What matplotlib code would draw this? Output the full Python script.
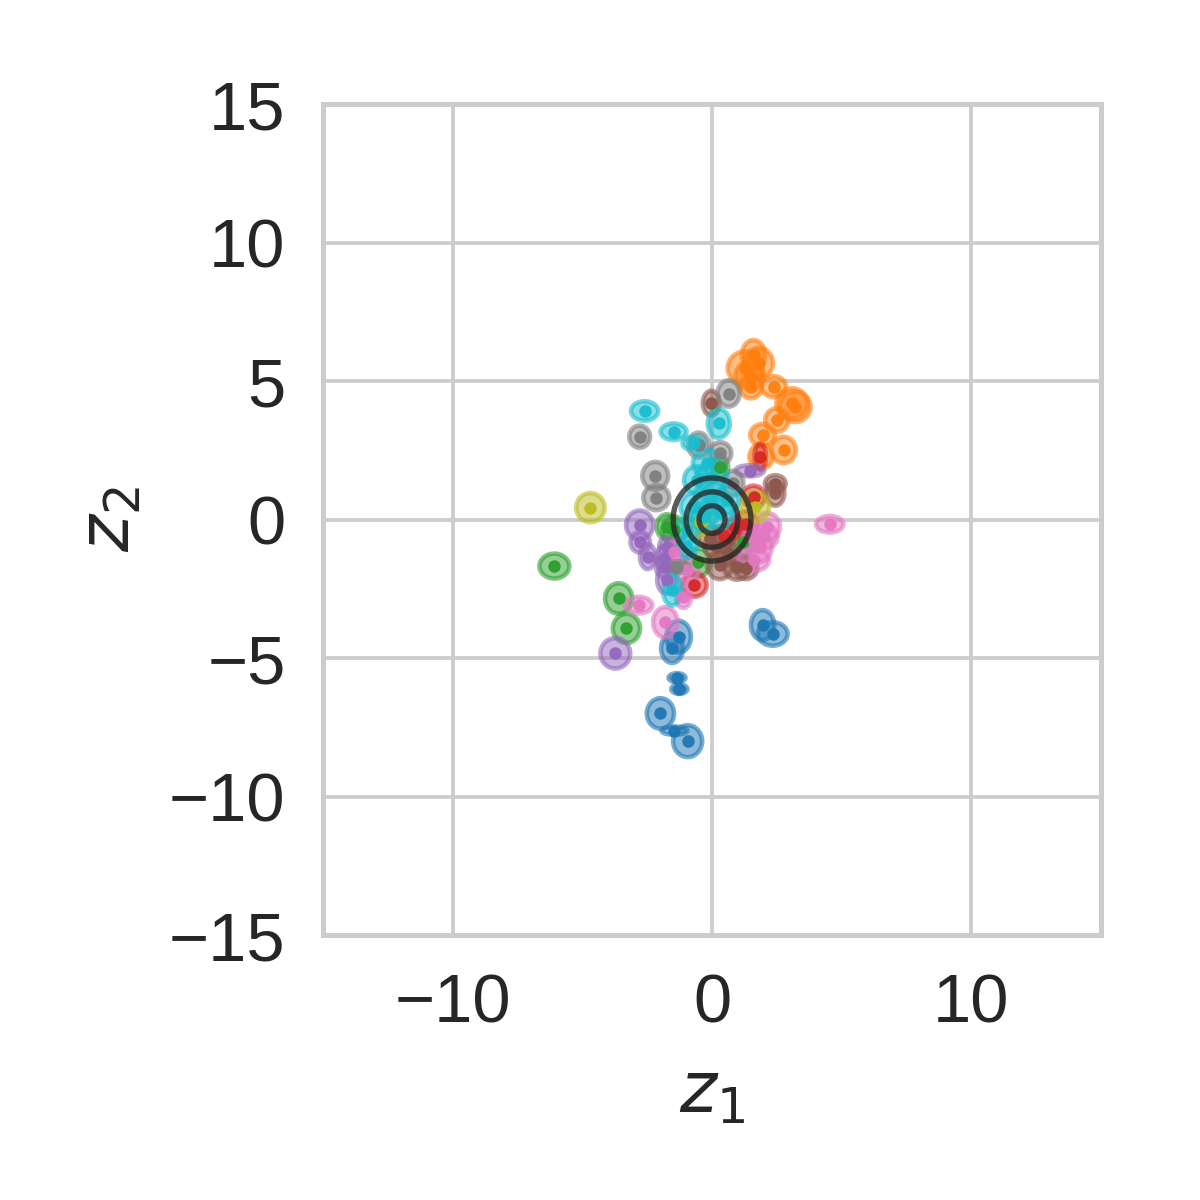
import numpy as np
import seaborn as sns
from matplotlib import pyplot as plt
from matplotlib.patches import Ellipse

sns.set_style("whitegrid")
plt.rcParams['font.family'] = ['Liberation Sans', 'DejaVu Sans']
plt.rcParams['mathtext.fontset'] = 'dejavusans'

# latent means (z1, z2), ellipse full widths/heights and class index
cls = [0]*9 + [1]*12 + [2]*8 + [3]*6 + [4]*9 + [5]*9 + [6]*11 + [7]*8 + [8]*3 + [9]*15
z1 = [1.95, 2.34, -1.29, -1.54, -1.35, -1.26, -1.99, -1.45, -0.94,
      1.6, 1.28, 1.8, 1.5, 2.38, 3.08, 3.2, 2.5, 1.95, 2.76, 1.89, 1.45,
      -6.08, -3.6, -3.3, 0.32, -1.48, -0.55, 1.2, -1.74,
      1.86, 1.6, -0.68, 1.3, 0.45, 0.9,
      1.45, -2.79, -2.77, -2.48, -1.85, -1.74, -3.73, -1.74, -1.87,
      -0.03, 2.44, 2.44, 0.3, 0.96, 1.3, 0.2, -0.06, 0.6,
      4.54, 2.12, 1.86, 1.6, 1.98, 1.6, -1.48, -0.96, -1.1, -2.83, -1.8,
      0.64, -2.79, -2.19, -2.15, -0.52, 0.32, 0.81, -1.35,
      -4.69, 1.65, -0.45,
      -2.6, -1.48, 0.26, -0.71, -0.19, -0.58, -0.07, -0.71, 0.32, -0.32, 0.58,
      -0.96, -0.96, -1.54, 0.0]
z2 = [-3.81, -4.13, -4.23, -4.65, -5.71, -6.12, -7.0, -7.62, -8.0,
      5.94, 5.47, 5.65, 4.8, 4.8, 4.19, 4.07, 3.59, 3.05, 2.51, 2.27, 5.2,
      -1.68, -2.85, -3.93, 1.9, -0.38, -1.55, -0.8, -0.26,
      2.27, 0.82, -2.36, -0.15, -0.6, -0.3,
      1.76, -0.2, -0.82, -1.34, -1.4, -2.18, -4.83, -0.98, -1.7,
      4.2, 1.3, 0.95, -1.65, -1.72, -1.75, -0.98, -0.65, -1.2,
      -0.17, -0.26, -0.98, -1.46, -0.62, -0.74, -1.16, -1.82, -2.79, -3.09, -3.71,
      4.55, 2.99, 1.58, 0.79, 2.69, 2.39, 1.31, -1.72,
      0.43, 0.46, -0.1,
      3.92, 3.17, 3.47, 2.75, 2.03, 1.43, 0.82, 0.46, 0.22, 0.1, 0.7,
      -0.38, -0.98, -2.55, 1.5]
wd = [0.9, 1.15, 0.95, 0.85, 0.65, 0.62, 1.05, 1.0, 1.12,
      0.9, 1.35, 1.1, 0.85, 0.95, 1.2, 1.2, 0.9, 0.95, 0.95, 0.9, 1.1,
      1.15, 1.05, 1.05, 0.6, 0.9, 1.0, 0.9, 0.8,
      0.45, 0.9, 0.95, 0.9, 0.8, 0.7,
      1.1, 1.05, 0.75, 0.6, 0.6, 0.75, 1.15, 0.6, 0.6,
      0.65, 0.8, 0.7, 1.0, 1.0, 0.9, 1.0, 0.9, 0.9,
      1.05, 1.0, 0.9, 1.2, 1.1, 0.9, 0.8, 0.9, 0.6, 1.05, 0.95,
      0.85, 0.8, 1.0, 1.0, 0.8, 0.85, 0.8, 1.0,
      1.1, 1.1, 0.9,
      1.05, 1.0, 0.85, 0.85, 1.1, 1.0, 1.2, 1.0, 1.0, 1.0, 0.9,
      0.8, 0.75, 0.7, 1.2]
ht = [1.08, 0.85, 1.15, 1.05, 0.33, 0.35, 1.1, 0.3, 1.15,
      1.08, 1.2, 1.1, 0.85, 0.75, 1.1, 1.1, 0.85, 0.8, 0.95, 0.9, 1.0,
      0.9, 1.1, 1.05, 0.8, 1.0, 1.0, 1.0, 0.9,
      0.95, 0.8, 0.85, 0.9, 0.8, 0.8,
      0.4, 1.05, 0.75, 0.9, 0.9, 1.0, 1.1, 0.7, 0.8,
      0.9, 0.6, 0.9, 1.0, 0.9, 0.8, 0.9, 0.8, 0.9,
      0.6, 1.0, 1.1, 0.8, 0.9, 0.9, 0.7, 0.9, 0.8, 0.6, 1.1,
      0.95, 0.8, 1.0, 0.9, 0.9, 0.8, 0.9, 0.45,
      1.05, 1.1, 1.0,
      0.7, 0.6, 1.05, 0.5, 1.0, 1.0, 1.2, 1.0, 1.1, 1.0, 1.0,
      0.9, 0.8, 1.1, 1.1]

prior_sizes = [1, 2, 3]  # widths of the N(0, I) prior contours
ticks_x = [-10, 0, 10]
ticks_y = [-15, -10, -5, 0, 5, 10, 15]

colors = plt.get_cmap('tab10').colors

fig = plt.figure(figsize=(4, 4), dpi=300)
ax = fig.add_axes([0.2692, 0.2208, 0.6483, 0.6925])

for c, x, y, w, h in zip(cls, z1, z2, wd, ht):
    col = colors[c]
    ax.add_patch(Ellipse((x, y), w, h, facecolor=(*col, 0.5),
                         edgecolor=(*col, 0.6), lw=1.1))
    ax.scatter([x], [y], s=9, color=col, alpha=0.95, lw=0, zorder=3)

for s in prior_sizes:
    ax.add_patch(Ellipse((0, 0), s, s, fill=False, edgecolor='#222222',
                         alpha=0.75, lw=1.3, zorder=5))

ax.set_xlim(-15, 15)
ax.set_ylim(-15, 15)
ax.set_xticks(ticks_x)
ax.set_yticks(ticks_y)
ax.tick_params(labelsize=16.5, length=0, pad=9, colors='#262626')
ax.grid(True, color='#cccccc', lw=0.9)
for sp in ax.spines.values():
    sp.set_color('#cccccc')
    sp.set_linewidth(1.2)
ax.set_xlabel('$z_1$', fontsize=17, color='#262626', labelpad=6)
ax.set_ylabel('$z_2$', fontsize=17, color='#262626', labelpad=6)

fig.savefig('out.png', dpi=300)
